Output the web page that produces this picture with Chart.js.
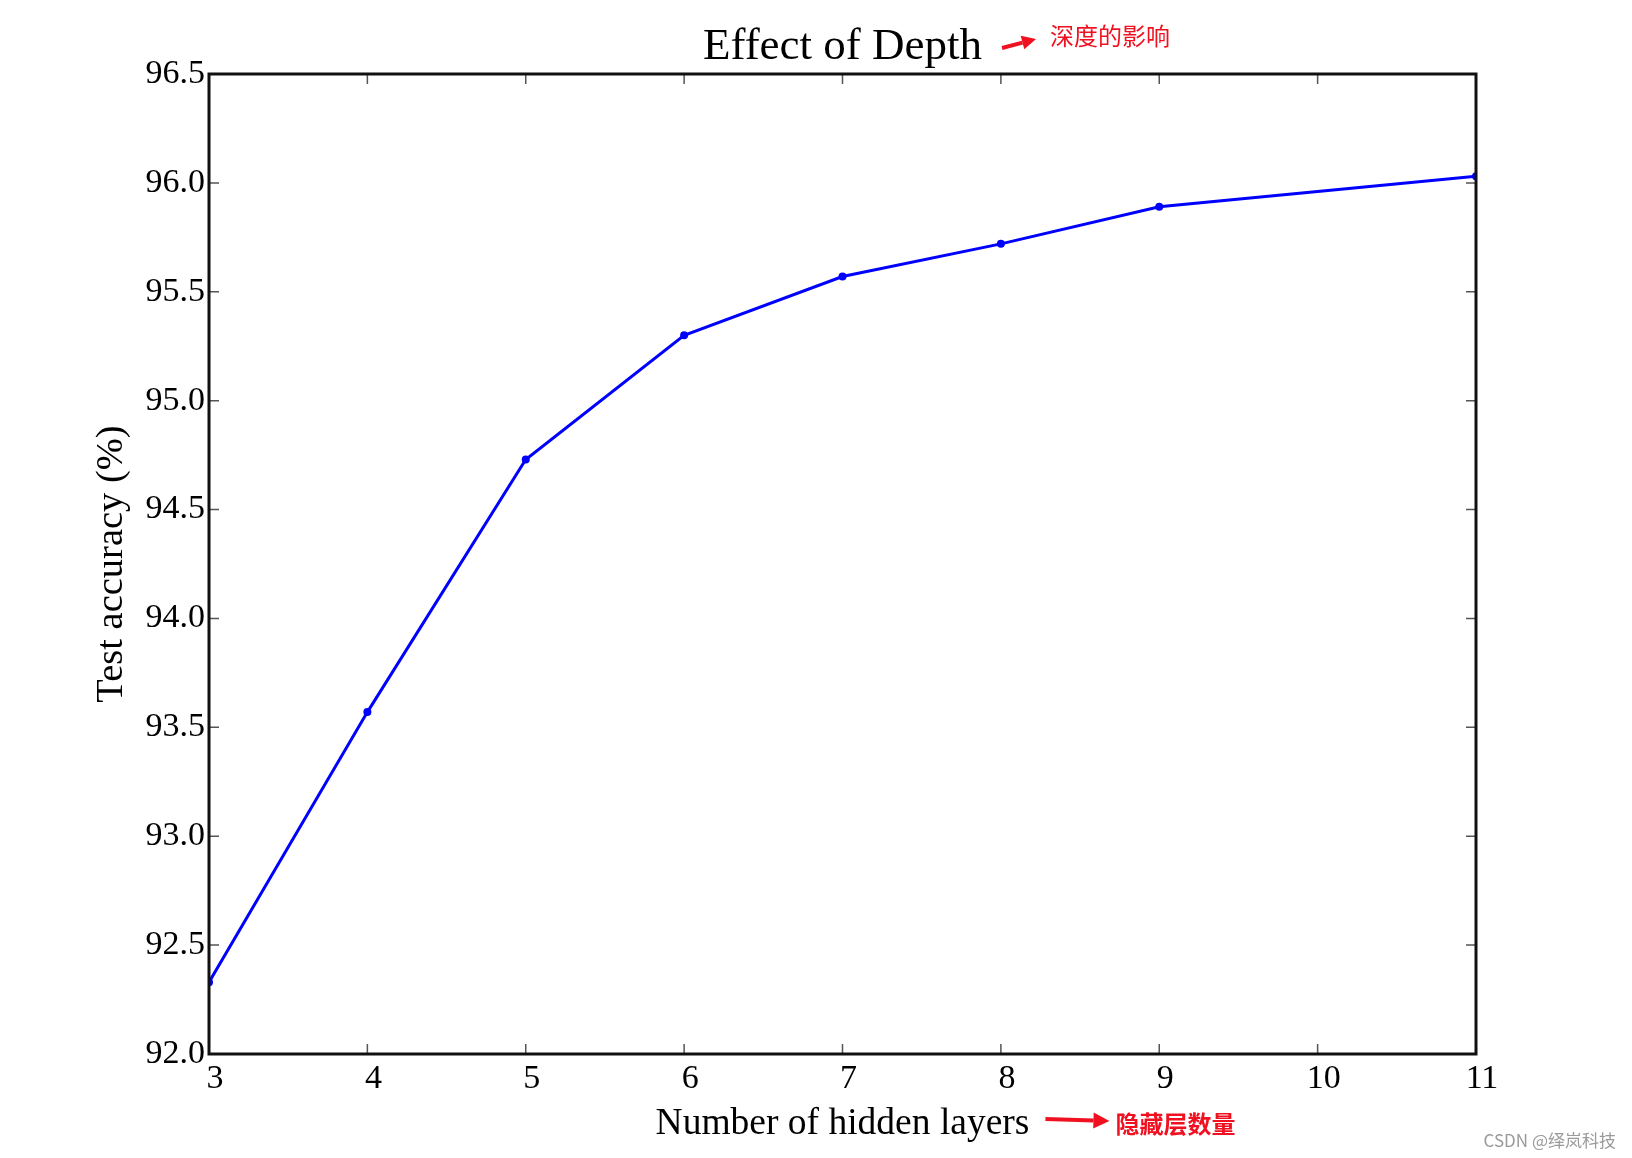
<!DOCTYPE html>
<html>
<head>
<meta charset="utf-8">
<script src="https://cdn.jsdelivr.net/npm/chart.js@4.4.0/dist/chart.umd.min.js"></script>
<style>
  html, body { margin: 0; padding: 0; background: #fff; }
  #wrap { width: 1632px; height: 1158px; }
</style>
</head>
<body>
<div id="wrap"><canvas id="depth-chart" width="1632" height="1158"></canvas></div>
<script>
// hidden layers (no run at 10) and test accuracy
const hiddenLayers = [3, 4, 5, 6, 7, 8, 9, 11];
const testAccuracy = [92.33, 93.57, 94.73, 95.30, 95.57, 95.72, 95.89, 96.03];
const xTicks = [3, 4, 5, 6, 7, 8, 9, 10, 11];
const yTicks = [92.0, 92.5, 93.0, 93.5, 94.0, 94.5, 95.0, 95.5, 96.0, 96.5];

const chartTitle = 'Effect of Depth';
const xLabel = 'Number of hidden layers';
const yLabel = 'Test accuracy (%)';
const titleNote = '深度的影响';
const xNote = '隐藏层数量';
const watermark = 'CSDN @绎岚科技';

const serif = '"Liberation Serif", "Times New Roman", serif';
const cjk = '"Noto Sans CJK SC", "Noto Sans", sans-serif';

function drawArrow(ctx, x1, y1, x2, y2, w, head) {
  const a = Math.atan2(y2 - y1, x2 - x1);
  const bx = x2 - head * Math.cos(a), by = y2 - head * Math.sin(a);
  ctx.beginPath();
  ctx.lineWidth = w;
  ctx.moveTo(x1, y1);
  ctx.lineTo(bx, by);
  ctx.stroke();
  ctx.beginPath();
  ctx.moveTo(x2, y2);
  ctx.lineTo(bx + head * 0.5 * Math.sin(a), by - head * 0.5 * Math.cos(a));
  ctx.lineTo(bx - head * 0.5 * Math.sin(a), by + head * 0.5 * Math.cos(a));
  ctx.closePath();
  ctx.fill();
}

// box, inward ticks on all four sides, red notes, watermark
const framePlugin = {
  id: 'frame',
  afterDraw(chart) {
    const { ctx, chartArea: a, scales } = chart;
    ctx.save();
    ctx.strokeStyle = '#555';
    ctx.lineWidth = 1.5;
    const tl = 10;
    xTicks.forEach(v => {
      if (v === xTicks[0] || v === xTicks[xTicks.length - 1]) return;
      const x = scales.x.getPixelForValue(v);
      ctx.beginPath();
      ctx.moveTo(x, a.bottom); ctx.lineTo(x, a.bottom - tl);
      ctx.moveTo(x, a.top); ctx.lineTo(x, a.top + tl);
      ctx.stroke();
    });
    yTicks.forEach(v => {
      if (v === yTicks[0] || v === yTicks[yTicks.length - 1]) return;
      const y = scales.y.getPixelForValue(v);
      ctx.beginPath();
      ctx.moveTo(a.left, y); ctx.lineTo(a.left + tl, y);
      ctx.moveTo(a.right, y); ctx.lineTo(a.right - tl, y);
      ctx.stroke();
    });
    ctx.strokeStyle = '#111';
    ctx.lineWidth = 3;
    ctx.strokeRect(a.left, a.top, a.right - a.left, a.bottom - a.top);

    // note next to the title
    ctx.font = '45px ' + serif;
    const tw = ctx.measureText(chartTitle).width;
    const tx = (a.left + a.right) / 2 + tw / 2;
    const ty = 47;
    ctx.strokeStyle = '#f01020';
    ctx.fillStyle = '#f01020';
    drawArrow(ctx, tx + 20, ty + 1, tx + 54, ty - 8, 4, 14);
    ctx.font = '24px ' + cjk;
    ctx.textBaseline = 'middle';
    ctx.textAlign = 'left';
    ctx.fillText(titleNote, tx + 68, ty - 11);

    // note next to the x axis title
    ctx.font = '37.5px ' + serif;
    const xw = ctx.measureText(xLabel).width;
    const xx = (scales.x.left + scales.x.right) / 2 + xw / 2;
    const xy = 1121;
    drawArrow(ctx, xx + 16, xy - 2, xx + 80, xy, 4, 16);
    ctx.font = 'bold 24px ' + cjk;
    ctx.fillText(xNote, xx + 86, xy + 3);

    ctx.font = '17px ' + cjk;
    ctx.fillStyle = '#9a9a9a';
    ctx.textAlign = 'right';
    ctx.fillText(watermark, 1616, 1141);
    ctx.restore();
  }
};

new Chart(document.getElementById('depth-chart'), {
  type: 'line',
  data: {
    datasets: [{
      label: yLabel,
      data: hiddenLayers.map((x, i) => ({ x: x, y: testAccuracy[i] })),
      borderColor: '#0000ff',
      backgroundColor: '#0000ff',
      borderWidth: 3,
      pointRadius: 4,
      pointBorderWidth: 0,
      tension: 0
    }]
  },
  options: {
    responsive: false,
    animation: false,
    layout: { padding: { left: 0, right: 156, top: 0, bottom: 0 } },
    plugins: {
      legend: { display: false },
      tooltip: { enabled: false },
      title: {
        display: true,
        text: chartTitle,
        fullSize: false,
        color: '#000',
        font: { family: serif, size: 45, weight: 'normal' },
        padding: { top: 20, bottom: 0 }
      }
    },
    scales: {
      x: {
        type: 'linear',
        min: 3,
        max: 11,
        afterBuildTicks: s => { s.ticks = xTicks.map(v => ({ value: v })); },
        afterFit: s => { s.height = 104; },
        grid: { display: false, drawTicks: false },
        border: { display: false },
        ticks: { color: '#000', font: { family: serif, size: 34 }, padding: 5, labelOffset: 6, maxRotation: 0 },
        title: { display: true, text: xLabel, color: '#000', font: { family: serif, size: 37.5 }, padding: { top: 0, bottom: 11 } }
      },
      y: {
        min: 92,
        max: 96.5,
        afterBuildTicks: s => { s.ticks = yTicks.map(v => ({ value: v })); },
        afterFit: s => { s.width = 209; },
        grid: { display: false, drawTicks: false },
        border: { display: false },
        ticks: { color: '#000', font: { family: serif, size: 34 }, padding: 4, callback: v => v.toFixed(1) },
        title: { display: true, text: yLabel, color: '#000', font: { family: serif, size: 38.5 }, padding: { top: 89, bottom: 0 } }
      }
    }
  },
  plugins: [framePlugin]
});
</script>
</body>
</html>
